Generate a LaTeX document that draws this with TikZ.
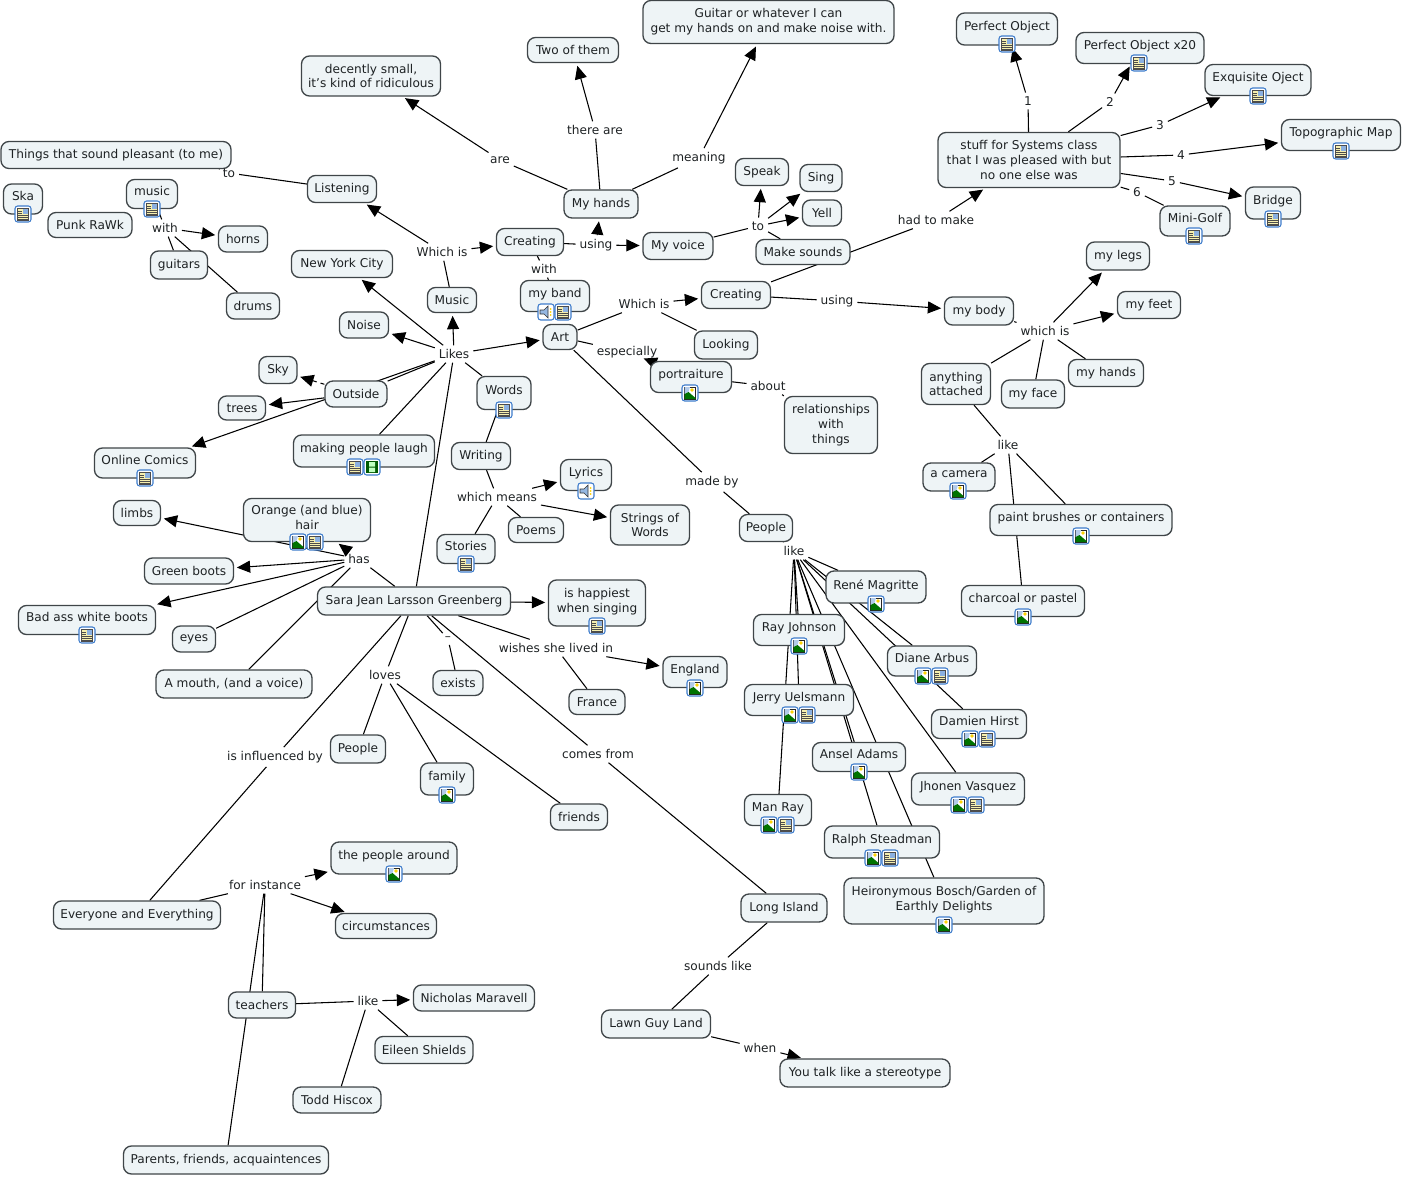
\documentclass[tikz,border=0pt]{standalone}
\usepackage{fontspec}
\setmainfont{DejaVu Sans}
\usetikzlibrary{arrows.meta,backgrounds}
\definecolor{boxfill}{HTML}{EEF4F6}
\definecolor{boxline}{HTML}{3F4548}
\definecolor{inktext}{HTML}{1E2224}
\definecolor{iconblue}{HTML}{3E7CCB}
\definecolor{iconpaper}{HTML}{F6EFAE}
\tikzset{
	concept/.style 2 args={draw=boxline,fill=boxfill,line width=1pt,rounded corners=6pt,
		inner sep=0pt,align=center,text=inktext,font=\fontsize{9.1}{11.2}\selectfont,
		minimum width=#1*0.75pt,minimum height=#2*0.75pt},
	withicon/.style={text depth=4pt},
	linkword/.style={inner sep=0.5pt,outer sep=2.5pt,text=inktext,align=center,
		font=\fontsize{9.1}{11.2}\selectfont},
	plainline/.style={line width=0.8pt,draw=black},
	arrowline/.style={plainline,-{Triangle[length=10pt,width=9pt]},shorten >=2pt},
	iconframe/.style={draw=iconblue,fill=white,line width=0.8pt,rounded corners=2pt},
	docicon/.pic={
		\draw[iconframe] (-8,-8) rectangle (8,8);
		\fill[iconpaper,draw=black!70,line width=0.3pt] (-5.5,-6) rectangle (5.5,6);
		\fill[iconblue!60] (0,-5) rectangle (4.5,0);
		\foreach \r in {-3,-1} \draw[black!70,line width=0.3pt] (-5,\r) -- (-1,\r);
		\foreach \r in {1,3,5} \draw[black!70,line width=0.3pt] (-5,\r) -- (5,\r);
	},
	imgicon/.pic={
		\draw[iconframe] (-8,-8) rectangle (8,8);
		\fill[white,draw=black!85,line width=0.5pt] (-5.5,-6) rectangle (5.5,6);
		\fill[iconblue!40] (-5.5,1) -- (-5.5,-6) -- (0,-6) -- (-1.5,-1) -- cycle;
		\fill[yellow!70!orange] (2,-3) circle (1.8);
		\fill[green!45!black] (-5.5,6) -- (-5.5,1) -- (-1.5,-1) -- (5.5,5) -- (5.5,6) -- cycle;
	},
	sndicon/.pic={
		\draw[iconframe] (-8,-8) rectangle (8,8);
		\fill[iconblue!55,draw=black!80,line width=0.4pt] (-6,-2) -- (-2,-2) -- (2,-6) -- (2,6) -- (-2,2) -- (-6,2) -- cycle;
		\fill[yellow!70!orange] (4.5,-3) circle (1) (4.5,0) circle (1) (4.5,3) circle (1);
	},
	filmicon/.pic={
		\draw[iconframe] (-8,-8) rectangle (8,8);
		\fill[green!35!black] (-6,-6) rectangle (6,6);
		\fill[green!25!white] (-3,-5) rectangle (3,-0.5) (-3,0.5) rectangle (3,5);
	}
}
\begin{document}
\begin{tikzpicture}[x=0.75pt,y=-0.75pt]
	\useasboundingbox (0,0) rectangle (1402,1177);
	\node[concept={251}{43}] (guitar) at (768.5,22) {Guitar or whatever I can\\get my hands on and make noise with.};
	\node[concept={91}{25}] (two) at (573,50) {Two of them};
	\node[concept={139}{40}] (small) at (371,76) {decently small,\\it's kind of ridiculous};
	\node[concept={101}{32},withicon] (perfect) at (1007,29) {Perfect Object};
	\node[concept={128}{31},withicon] (perfecttwenty) at (1140,48) {Perfect Object x20};
	\node[concept={106}{31},withicon] (exquisite) at (1258,80) {Exquisite Oject};
	\node[concept={119}{31},withicon] (topo) at (1341,135) {Topographic Map};
	\node[concept={182}{55}] (stuff) at (1029,160) {stuff for Systems class\\that I was pleased with but\\no one else was};
	\node[concept={55}{32},withicon] (bridge) at (1273,203) {Bridge};
	\node[concept={70}{30},withicon] (minigolf) at (1195,221) {Mini-Golf};
	\node[concept={230}{27}] (things) at (116,155) {Things that sound pleasant (to me)};
	\node[concept={39}{30},withicon] (ska) at (23,199) {Ska};
	\node[concept={84}{25}] (punk) at (90,225) {Punk RaWk};
	\node[concept={51}{29},withicon] (music) at (152,194) {music};
	\node[concept={49}{26}] (horns) at (243,239) {horns};
	\node[concept={57}{28}] (guitars) at (179,265) {guitars};
	\node[concept={53}{26}] (drums) at (253,306) {drums};
	\node[concept={69}{27}] (listening) at (342,189) {Listening};
	\node[concept={101}{27}] (newyork) at (342,264) {New York City};
	\node[concept={49}{26}] (noise) at (364,325) {Noise};
	\node[concept={38}{27}] (sky) at (278,370) {Sky};
	\node[concept={62}{26}] (outside) at (356,394) {Outside};
	\node[concept={47}{24}] (trees) at (242,408) {trees};
	\node[concept={101}{30},withicon] (comics) at (145,463) {Online Comics};
	\node[concept={141}{32},withicon] (laugh) at (364,451) {making people laugh};
	\node[concept={49}{25}] (musicb) at (452,300) {Music};
	\node[concept={67}{27}] (creatinga) at (530,242) {Creating};
	\node[concept={74}{28}] (myhands) at (601,204) {My hands};
	\node[concept={70}{27}] (myvoice) at (678,246) {My voice};
	\node[concept={53}{27}] (speak) at (762,172) {Speak};
	\node[concept={42}{27}] (sing) at (821,178) {Sing};
	\node[concept={39}{26}] (yell) at (822,213) {Yell};
	\node[concept={94}{25}] (makesounds) at (803,252) {Make sounds};
	\node[concept={69}{31},withicon] (band) at (555,296) {my band};
	\node[concept={34}{25}] (art) at (560,337) {Art};
	\node[concept={69}{27}] (creatingb) at (736,295) {Creating};
	\node[concept={63}{28}] (looking) at (726,345) {Looking};
	\node[concept={81}{31},withicon] (portraiture) at (691,377) {portraiture};
	\node[concept={93}{57}] (relationships) at (831,425) {relationships\\with\\things};
	\node[concept={69}{28}] (mybody) at (979,311) {my body};
	\node[concept={63}{28}] (mylegs) at (1118,256) {my legs};
	\node[concept={63}{27}] (myfeet) at (1149,305) {my feet};
	\node[concept={75}{27}] (myhandsb) at (1106,373) {my hands};
	\node[concept={63}{28}] (myface) at (1033,394) {my face};
	\node[concept={69}{41}] (attached) at (956,384) {anything\\attached};
	\node[concept={72}{28},withicon] (camera) at (959,477) {a camera};
	\node[concept={182}{31},withicon] (brushes) at (1081,520) {paint brushes or containers};
	\node[concept={123}{31},withicon] (charcoal) at (1023,601) {charcoal or pastel};
	\node[concept={54}{33},withicon] (words) at (504,393) {Words};
	\node[concept={59}{27}] (writing) at (481,456) {Writing};
	\node[concept={51}{31},withicon] (lyrics) at (586,475) {Lyrics};
	\node[concept={79}{40}] (strings) at (650,525) {Strings of\\Words};
	\node[concept={55}{25}] (poems) at (536,530) {Poems};
	\node[concept={58}{29},withicon] (stories) at (466,549) {Stories};
	\node[concept={53}{27}] (peoplea) at (766,528) {People};
	\node[concept={47}{25}] (limbs) at (137,513) {limbs};
	\node[concept={127}{43},withicon] (hair) at (307,520) {Orange (and blue)\\hair};
	\node[concept={89}{26}] (greenboots) at (189,571) {Green boots};
	\node[concept={137}{29},withicon] (badass) at (87,620) {Bad ass white boots};
	\node[concept={43}{26}] (eyes) at (194,639) {eyes};
	\node[concept={156}{28}] (mouth) at (234,684) {A mouth, (and a voice)};
	\node[concept={193}{28}] (sara) at (414,601) {Sara Jean Larsson Greenberg};
	\node[concept={97}{46},withicon] (happiest) at (597,603) {is happiest\\when singing};
	\node[concept={64}{31},withicon] (england) at (695,672) {England};
	\node[concept={56}{25}] (france) at (597,702) {France};
	\node[concept={50}{25}] (exists) at (458,683) {exists};
	\node[concept={55}{28}] (peopleb) at (358,749) {People};
	\node[concept={53}{32},withicon] (family) at (447,779) {family};
	\node[concept={57}{26}] (friends) at (579,817) {friends};
	\node[concept={167}{28}] (everyone) at (137,915) {Everyone and Everything};
	\node[concept={126}{32},withicon] (around) at (394,858) {the people around};
	\node[concept={101}{25}] (circumstances) at (386,926) {circumstances};
	\node[concept={86}{28}] (longisland) at (784,908) {Long Island};
	\node[concept={109}{28}] (lawnguy) at (656,1024) {Lawn Guy Land};
	\node[concept={170}{28}] (stereotype) at (865,1073) {You talk like a stereotype};
	\node[concept={67}{26}] (teachers) at (262,1005) {teachers};
	\node[concept={121}{26}] (nicholas) at (474,998) {Nicholas Maravell};
	\node[concept={98}{27}] (eileen) at (424,1050) {Eileen Shields};
	\node[concept={88}{26}] (todd) at (337,1100) {Todd Hiscox};
	\node[concept={205}{28}] (parents) at (226,1160) {Parents, friends, acquaintences};
	\node[concept={200}{46},withicon] (bosch) at (944,901) {Heironymous Bosch/Garden of\\Earthly Delights};
	\node[concept={115}{32},withicon] (ralph) at (882,842) {Ralph Steadman};
	\node[concept={113}{32},withicon] (jhonen) at (968,789) {Jhonen Vasquez};
	\node[concept={93}{29},withicon] (ansel) at (859,757) {Ansel Adams};
	\node[concept={95}{29},withicon] (damien) at (979,724) {Damien Hirst};
	\node[concept={89}{30},withicon] (diane) at (932,661) {Diane Arbus};
	\node[concept={67}{31},withicon] (manray) at (778,810) {Man Ray};
	\node[concept={109}{31},withicon] (uelsmann) at (799,700) {Jerry Uelsmann};
	\node[concept={91}{31},withicon] (rayjohnson) at (799,630) {Ray Johnson};
	\node[concept={100}{32},withicon] (magritte) at (876,587) {René Magritte};
	\node[linkword] (are) at (500,160) {are};
	\node[linkword] (thereare) at (595,130) {there are};
	\node[linkword] (meaning) at (699,158) {meaning};
	\node[linkword] (whichisa) at (442,252) {Which is};
	\node[linkword] (usinga) at (596,245) {using};
	\node[linkword] (withband) at (544,269) {with};
	\node[linkword] (tolisten) at (229,173) {to};
	\node[linkword] (withmusic) at (165,228) {with};
	\node[linkword] (likes) at (454,354) {Likes};
	\node[linkword] (tovoice) at (758,226) {to};
	\node[linkword] (hadtomake) at (936,220) {had to make};
	\node[linkword] (one) at (1028,101) {1};
	\node[linkword] (second) at (1110,102) {2};
	\node[linkword] (three) at (1160,125) {3};
	\node[linkword] (four) at (1181,155) {4};
	\node[linkword] (five) at (1172,181) {5};
	\node[linkword] (six) at (1137,192) {6};
	\node[linkword] (whichisb) at (644,304) {Which is};
	\node[linkword] (usingb) at (837,301) {using};
	\node[linkword] (especially) at (627,352) {especially};
	\node[linkword] (about) at (768,386) {about};
	\node[linkword] (whichisc) at (1045,331) {which is};
	\node[linkword] (likeart) at (1008,445) {like};
	\node[linkword] (whichmeans) at (497,497) {which means};
	\node[linkword] (madeby) at (712,482) {made by};
	\node[linkword] (likepeople) at (794,551) {like};
	\node[linkword] (has) at (359,559) {has};
	\node[linkword] (loves) at (385,675) {loves};
	\node[linkword] (influenced) at (275,757) {is influenced by};
	\node[linkword] (comesfrom) at (598,754) {comes from};
	\node[linkword] (wishes) at (556,648) {wishes she lived in};
	\node[linkword] (dash) at (448,639) {–};
	\node[linkword] (forinstance) at (265,885) {for instance};
	\node[linkword] (soundslike) at (718,966) {sounds like};
	\node[linkword] (when) at (760,1048) {when};
	\node[linkword] (liketeachers) at (368,1001) {like};
	\foreach \px/\py in {1007/44,1139/63,1258/96,1341/151,1273/219,1194/236,23/214,152/209,145/478,355/467,563/312,504/410,466/564,315/542,87/635,597/626,940/676,987/739,976/805,890/858,786/825,807/715}
		\pic at (\px,\py) {docicon};
	\foreach \px/\py in {690/393,958/491,1081/536,1023/617,298/542,695/688,447/795,394/874,876/604,799/646,790/715,923/676,970/739,859/772,959/805,873/858,769/825,944/925}
		\pic at (\px,\py) {imgicon};
	\foreach \px/\py in {546/312,586/491}
		\pic at (\px,\py) {sndicon};
	\pic at (372,467) {filmicon};
	\begin{scope}[on background layer]
		\foreach \a/\b in {myhands/are,myhands/thereare,myhands/meaning,creatinga/usinga,myvoice/tovoice,makesounds/tovoice,
				creatingb/hadtomake,stuff/one,stuff/second,stuff/three,stuff/four,stuff/five,stuff/six,six/minigolf,
				listening/tolisten,musicb/whichisa,creatinga/withband,withband/band,
				likes/outside,likes/laugh,likes/words,likes/sara,words/writing,writing/whichmeans,whichmeans/poems,whichmeans/stories,
				art/whichisb,whichisb/looking,art/especially,portraiture/about,about/relationships,art/madeby,madeby/peoplea,
				creatingb/usingb,mybody/whichisc,whichisc/myhandsb,whichisc/myface,whichisc/attached,
				attached/likeart,likeart/camera,likeart/brushes,likeart/charcoal,peoplea/likepeople,
				likepeople/magritte,likepeople/rayjohnson,likepeople/uelsmann,likepeople/manray,likepeople/diane,likepeople/damien,
				likepeople/ansel,likepeople/ralph,likepeople/jhonen,likepeople/bosch,
				sara/has,has/eyes,has/mouth,sara/loves,loves/peopleb,loves/family,loves/friends,
				sara/influenced,influenced/everyone,sara/dash,dash/exists,sara/comesfrom,comesfrom/longisland,
				sara/wishes,wishes/france,everyone/forinstance,forinstance/teachers,forinstance/parents,
				teachers/liketeachers,liketeachers/eileen,liketeachers/todd,longisland/soundslike,soundslike/lawnguy,lawnguy/when,
				music/withmusic,withmusic/guitars,withmusic/drums}
			\draw[plainline] (\a) -- (\b);
		\foreach \a/\b in {are/small,thereare/two,meaning/guitar,usinga/myvoice,usinga/myhands,tovoice/speak,tovoice/sing,tovoice/yell,
				hadtomake/stuff,one/perfect,second/perfecttwenty,three/exquisite,four/topo,five/bridge,
				whichisa/listening,whichisa/creatinga,likes/musicb,likes/newyork,likes/noise,likes/art,likes/comics,outside/trees,
				whichmeans/lyrics,whichmeans/strings,whichisb/creatingb,usingb/mybody,whichisc/mylegs,whichisc/myfeet,
				has/hair,has/limbs,has/greenboots,has/badass,sara/happiest,wishes/england,
				forinstance/around,forinstance/circumstances,liketeachers/nicholas,when/stereotype,withmusic/horns}
			\draw[arrowline] (\a) -- (\b);
		\draw[arrowline,dashed] (outside) -- (sky);
		\draw[arrowline,shorten >=-5pt] (especially) -- (portraiture);
		\draw[plainline] (tolisten) -- ([xshift=-9pt]things.south east);
	\end{scope}
\end{tikzpicture}
\end{document}
